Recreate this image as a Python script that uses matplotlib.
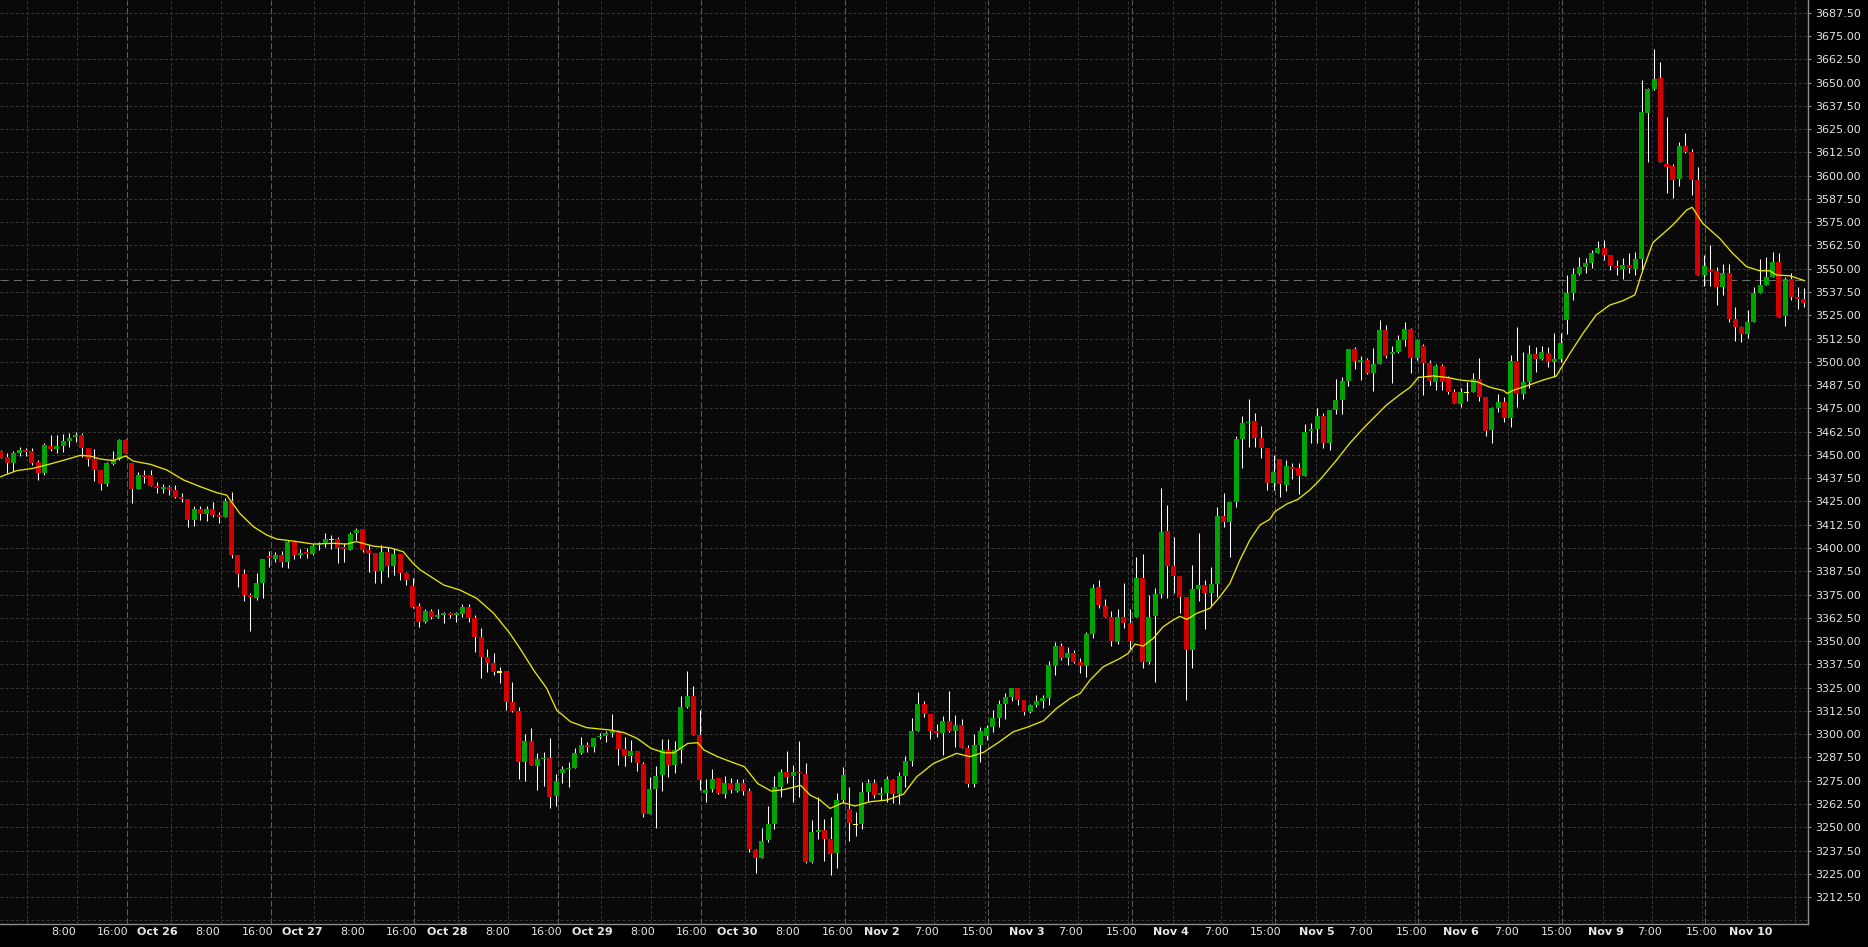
import matplotlib
matplotlib.use("Agg")
import matplotlib.pyplot as plt
import numpy as np

plt.rcParams['lines.scale_dashes'] = False
plt.rcParams['font.family'] = ['DejaVu Sans']

# ---------------- data (hourly candles, index = bar number) ----------------
opens = [3452.0,3448.8,3445.6,3451.2,3452.6,3452.1,3446.2,3440.4,3454.8,3453.1,
         3454.9,3457.4,3459.6,3460.7,3453.7,3448.0,3441.9,3434.3,3445.3,3447.8,
         3458.0,3445.8,3431.7,3439.2,3439.2,3433.1,3431.7,3432.7,3431.3,3427.3,
         3426.3,3415.0,3420.9,3418.4,3420.9,3417.7,3416.6,3425.2,3396.2,3386.0,
         3374.7,3373.3,3381.2,3395.7,3394.1,3396.2,3392.6,3403.2,3396.4,3397.6,
         3396.7,3401.4,3402.5,3404.5,3404.8,3400.7,3398.9,3408.2,3410.2,3398.9,
         3397.1,3387.6,3397.8,3390.5,3396.7,3386.4,3379.7,3368.8,3360.4,3366.1,
         3363.1,3363.8,3365.2,3363.8,3364.5,3368.3,3362.4,3352.2,3341.4,3338.2,
         3333.4,3333.9,3317.4,3312.4,3285.2,3296.3,3283.0,3286.4,3287.2,3266.8,
         3279.3,3281.3,3282.0,3289.9,3294.1,3293.3,3298.3,3299.2,3300.4,3301.5,
         3292.0,3288.4,3290.9,3284.1,3257.3,3270.5,3278.0,3291.5,3283.4,3291.5,
         3314.6,3320.5,3299.5,3268.2,3270.3,3276.4,3268.0,3273.7,3269.6,3273.7,
         3269.4,3237.7,3233.6,3243.1,3251.7,3271.6,3279.6,3277.7,3279.6,3278.6,
         3231.5,3247.2,3248.5,3243.7,3235.9,3264.9,3259.8,3251.7,3251.7,3268.9,
         3273.9,3267.5,3268.6,3275.4,3267.8,3277.5,3285.6,3301.7,3316.2,3310.8,
         3301.7,3300.4,3307.1,3301.7,3304.9,3292.7,3273.2,3294.2,3299.0,3303.6,
         3308.5,3316.2,3319.8,3324.6,3318.3,3312.1,3315.6,3317.8,3319.6,3336.8,
         3347.3,3341.1,3343.4,3338.9,3336.8,3353.6,3379.0,3369.0,3362.7,3349.7,
         3362.7,3359.5,3363.1,3383.9,3338.9,3363.4,3375.3,3409.1,3390.3,3384.9,
         3373.8,3345.2,3377.9,3380.1,3376.0,3380.6,3417.2,3414.1,3424.8,3458.5,
         3466.9,3468.0,3459.2,3453.9,3435.1,3447.8,3433.8,3443.3,3442.9,3438.6,
         3462.6,3463.9,3470.9,3456.5,3474.1,3479.5,3489.7,3506.9,3500.1,3500.9,
         3494.2,3498.8,3517.1,3504.0,3505.4,3511.7,3517.6,3502.2,3508.5,3499.5,
         3489.3,3497.7,3491.6,3483.9,3477.3,3483.4,3483.9,3490.6,3480.9,3463.4,
         3475.4,3478.6,3470.0,3500.4,3482.7,3489.1,3504.2,3501.5,3504.9,3500.0,
         3501.5,3522.4,3537.1,3547.1,3550.9,3553.2,3558.6,3561.1,3557.3,3551.4,
         3550.0,3552.0,3550.0,3555.4,3633.8,3646.7,3652.2,3606.2,3605.1,3598.3,
         3615.9,3612.7,3597.6,3546.6,3549.3,3548.9,3540.3,3547.5,3523.0,3518.5,
         3514.9,3521.5,3536.8,3541.2,3545.7,3553.8,3524.6,3544.3,3535.0,3533.7]
highs = [3452.6,3450.8,3452.2,3454.0,3453.5,3453.5,3447.2,3456.5,3460.5,3460.8,
         3461.2,3461.6,3462.3,3461.6,3453.7,3453.1,3441.9,3446.3,3452.1,3458.3,
         3458.3,3445.8,3441.0,3441.9,3441.9,3435.4,3434.3,3433.8,3433.6,3429.3,
         3426.3,3422.5,3422.5,3422.5,3424.9,3419.5,3426.6,3430.2,3396.2,3388.7,
         3375.6,3386.5,3394.1,3398.4,3398.0,3398.6,3404.3,3403.9,3399.4,3399.8,
         3402.1,3403.4,3407.8,3406.9,3406.1,3402.5,3408.7,3410.5,3410.2,3401.6,
         3397.1,3401.6,3400.7,3399.8,3396.7,3387.3,3384.0,3370.2,3367.2,3367.0,
         3367.0,3365.8,3365.8,3365.8,3369.7,3369.7,3364.0,3356.8,3345.7,3343.4,
         3336.2,3333.9,3327.8,3314.7,3300.0,3303.1,3289.7,3290.6,3297.7,3278.6,
         3283.0,3285.2,3292.7,3298.4,3295.9,3297.9,3300.4,3301.8,3310.8,3302.2,
         3298.6,3296.8,3290.9,3285.2,3277.1,3282.9,3297.4,3297.4,3296.3,3320.5,
         3333.9,3325.8,3312.9,3275.9,3281.3,3276.4,3277.5,3276.2,3276.1,3275.9,
         3270.9,3238.1,3249.7,3261.4,3277.5,3281.3,3290.9,3283.6,3296.3,3284.7,
         3253.9,3266.0,3254.4,3255.3,3268.2,3282.2,3271.8,3258.3,3274.5,3275.7,
         3275.7,3271.8,3277.5,3275.7,3279.5,3288.2,3308.8,3322.5,3317.8,3310.8,
         3305.4,3309.7,3323.2,3310.3,3307.9,3294.2,3299.9,3304.0,3304.9,3313.0,
         3318.3,3322.3,3324.9,3324.9,3318.3,3316.0,3321.0,3321.0,3339.3,3349.7,
         3349.1,3346.6,3345.2,3340.7,3355.0,3380.6,3382.8,3372.4,3366.3,3367.0,
         3381.0,3367.0,3395.0,3396.7,3374.7,3378.3,3432.0,3423.1,3406.1,3385.1,
         3373.8,3390.8,3407.8,3382.8,3389.6,3421.8,3429.7,3424.8,3460.1,3470.9,
         3480.0,3472.3,3465.5,3453.9,3449.9,3447.8,3447.2,3445.8,3445.4,3466.6,
         3466.9,3475.4,3472.3,3474.1,3490.6,3491.6,3506.9,3508.1,3503.3,3501.8,
         3507.6,3522.4,3519.8,3508.5,3514.4,3521.2,3518.0,3512.1,3509.6,3500.9,
         3498.6,3498.6,3492.4,3485.2,3485.8,3489.3,3494.2,3501.8,3481.3,3475.9,
         3482.5,3480.9,3503.6,3518.8,3505.4,3509.0,3508.1,3508.5,3508.1,3515.3,
         3515.6,3546.6,3550.2,3556.4,3555.6,3560.0,3565.1,3565.4,3557.3,3554.7,
         3555.6,3558.2,3559.1,3651.3,3646.9,3667.8,3661.2,3631.3,3606.0,3618.2,
         3622.7,3614.1,3604.8,3557.3,3562.7,3551.1,3552.5,3552.5,3529.6,3519.4,
         3527.8,3540.3,3555.2,3556.4,3559.1,3558.2,3545.7,3547.5,3540.0,3539.4]
lows = [3448.1,3440.1,3441.5,3449.6,3449.4,3444.6,3436.5,3439.2,3452.2,3451.2,
        3451.7,3454.4,3457.1,3448.7,3444.0,3436.0,3431.1,3433.3,3444.6,3447.2,
        3450.8,3424.3,3431.7,3434.7,3433.4,3429.3,3429.3,3428.4,3426.6,3424.9,
        3411.4,3411.8,3415.0,3414.6,3416.8,3413.6,3416.4,3394.8,3379.2,3371.5,
        3355.6,3372.0,3372.9,3390.0,3392.6,3390.0,3389.4,3394.1,3394.6,3394.4,
        3396.2,3398.9,3400.7,3399.2,3392.1,3392.6,3398.9,3404.3,3398.0,3387.3,
        3381.0,3381.3,3384.6,3385.5,3382.8,3380.1,3367.6,3357.7,3359.5,3361.6,
        3362.2,3359.9,3362.5,3360.4,3363.1,3360.2,3344.3,3330.3,3333.2,3331.7,
        3327.6,3312.9,3312.0,3276.1,3275.0,3283.4,3270.0,3272.1,3260.5,3261.4,
        3273.9,3271.8,3281.6,3289.3,3290.6,3290.6,3297.2,3296.0,3298.6,3283.6,
        3283.0,3285.2,3280.4,3255.6,3257.3,3249.7,3269.6,3276.8,3278.9,3284.6,
        3313.8,3299.5,3269.9,3263.7,3268.7,3267.8,3265.9,3268.5,3268.7,3267.3,
        3236.9,3225.6,3233.6,3242.2,3248.9,3266.4,3273.9,3263.7,3266.4,3230.9,
        3230.9,3243.5,3232.0,3224.3,3228.3,3262.8,3242.6,3245.3,3248.9,3264.1,
        3265.5,3264.6,3263.7,3262.8,3262.3,3271.8,3283.0,3301.7,3309.4,3297.2,
        3298.6,3288.8,3301.3,3293.3,3292.7,3271.8,3271.8,3285.2,3296.8,3301.3,
        3303.6,3308.3,3317.8,3315.6,3310.3,3311.2,3314.7,3313.9,3315.6,3331.8,
        3339.8,3337.1,3338.4,3333.0,3330.9,3351.8,3367.6,3362.7,3347.5,3348.2,
        3356.8,3345.7,3363.1,3335.3,3337.7,3328.2,3373.0,3373.0,3375.6,3364.9,
        3318.3,3335.7,3371.5,3356.4,3369.3,3373.8,3411.4,3395.3,3422.2,3443.1,
        3454.4,3454.4,3448.1,3431.1,3431.1,3427.5,3430.6,3436.9,3429.0,3438.6,
        3456.2,3456.2,3453.5,3452.6,3471.8,3471.8,3487.0,3496.1,3490.2,3493.4,
        3484.5,3498.8,3501.8,3488.8,3504.5,3508.7,3494.2,3500.9,3482.1,3487.5,
        3484.8,3484.8,3482.5,3477.7,3475.5,3479.1,3483.6,3479.1,3460.3,3456.5,
        3472.8,3467.5,3465.1,3475.9,3479.8,3485.7,3494.7,3501.0,3497.4,3492.0,
        3500.0,3514.9,3533.2,3546.6,3547.9,3550.2,3558.2,3554.7,3549.3,3546.6,
        3544.4,3547.5,3546.6,3549.3,3607.5,3646.0,3607.5,3590.5,3587.8,3594.6,
        3612.0,3589.6,3546.6,3540.9,3540.9,3530.5,3535.9,3521.5,3511.1,3510.8,
        3513.0,3521.5,3536.8,3541.2,3545.3,3524.2,3519.4,3533.2,3528.2,3529.6]
closes = [3448.5,3445.6,3451.0,3452.6,3451.7,3445.6,3440.4,3455.3,3453.1,3454.8,
          3457.4,3459.0,3460.7,3453.7,3448.0,3441.9,3434.3,3445.8,3447.8,3458.0,
          3451.2,3431.7,3439.2,3438.3,3433.4,3432.2,3432.7,3431.3,3427.3,3426.5,
          3415.0,3420.9,3418.4,3420.9,3417.7,3416.6,3425.2,3396.2,3386.0,3374.7,
          3373.8,3381.2,3394.1,3394.8,3396.2,3392.6,3403.2,3396.2,3397.3,3396.7,
          3401.2,3402.1,3404.8,3404.5,3400.1,3399.6,3407.5,3409.6,3398.9,3397.1,
          3387.6,3397.8,3390.5,3396.7,3386.4,3382.8,3368.5,3360.4,3366.1,3363.1,
          3364.0,3365.2,3363.8,3364.9,3368.3,3362.4,3352.2,3341.4,3338.2,3333.4,
          3333.4,3317.4,3312.4,3285.2,3296.3,3283.4,3286.6,3287.2,3266.2,3274.8,
          3281.3,3282.0,3289.9,3294.1,3293.3,3297.9,3299.2,3300.4,3301.7,3292.2,
          3288.4,3290.9,3284.5,3257.3,3270.5,3277.5,3291.5,3283.4,3291.5,3314.5,
          3320.5,3299.5,3275.4,3270.0,3275.9,3268.2,3273.7,3270.0,3273.7,3269.6,
          3238.1,3233.6,3242.6,3251.7,3271.6,3279.6,3277.1,3279.6,3278.9,3231.5,
          3247.2,3248.5,3243.7,3235.6,3264.9,3277.9,3252.4,3251.7,3268.9,3273.9,
          3267.3,3268.6,3275.7,3267.8,3277.5,3285.6,3301.7,3316.2,3310.8,3301.7,
          3300.4,3307.1,3301.7,3304.9,3292.7,3273.2,3294.2,3301.7,3303.1,3308.5,
          3316.2,3319.8,3324.6,3318.3,3312.1,3315.6,3317.8,3319.2,3337.1,3347.3,
          3341.1,3343.4,3338.9,3336.8,3353.6,3378.3,3369.4,3362.7,3350.0,3362.7,
          3359.5,3350.0,3383.9,3338.9,3363.1,3375.3,3408.6,3390.5,3384.9,3373.8,
          3345.2,3377.9,3380.1,3376.0,3380.6,3417.2,3414.1,3424.8,3458.5,3466.9,
          3467.6,3459.2,3453.9,3435.1,3440.8,3434.5,3444.0,3442.6,3438.6,3462.3,
          3463.9,3470.9,3456.5,3474.1,3479.5,3489.7,3506.9,3500.6,3500.9,3494.2,
          3498.8,3517.1,3503.3,3505.4,3511.7,3517.6,3502.2,3511.7,3499.5,3489.7,
          3497.7,3489.3,3483.9,3478.0,3483.6,3483.4,3490.6,3481.3,3463.0,3475.4,
          3478.6,3470.0,3500.4,3482.7,3489.1,3504.2,3501.5,3505.2,3500.0,3501.5,
          3510.3,3537.1,3547.1,3550.9,3553.2,3558.6,3561.1,3557.3,3551.4,3550.5,
          3552.0,3550.2,3555.4,3634.3,3646.3,3651.9,3607.5,3604.8,3597.6,3615.9,
          3612.7,3597.6,3546.6,3551.6,3548.4,3540.3,3547.5,3523.0,3518.5,3514.9,
          3521.5,3536.8,3541.2,3545.7,3553.8,3524.2,3544.3,3535.0,3533.9,3531.4]

# moving-average line (bar index, value)
ma_bar = [0,2.5,5.2,7.9,10.6,12.7,14.3,15.9,18,20,21.2,24,26.6,29.3,32,34.6,36.2,
          38.3,40.5,42.6,44.2,46.9,50.1,53.3,55.4,57,59.7,62.4,64.5,66.1,67.2,71,
          73.6,76.3,79,81.6,83.2,85.4,87.5,89.1,91.3,93.9,97.7,99.9,102,104.2,106.3,
          107.9,110.1,111.7,112.7,114.9,117,119.2,121.3,123.5,125.6,128.2,129.7,
          131.3,132.9,135,136.9,139.3,142,144.7,146.8,149.5,153.2,155.3,157.5,160.1,
          162.3,164.4,167.1,169.2,171.4,173,174.6,176.7,179.4,180.7,181.8,183.1,
          184.7,186.3,188,189,190.1,191.7,193.8,195.4,197,198.6,200.2,201.8,203.4,
          204.2,206.1,207.9,209.8,211.4,214.1,216.2,218.4,220.5,222.1,224.3,225.9,
          227.2,229.6,231.8,233.9,236.6,238.7,240.9,241.4,242.5,244.5,247.2,249.3,
          251.5,253.6,255.7,257.9,260,261.9,263.2,264.8,268,270.2,271.1,272.8,275.5,
          277.6,279.8,281.9,283.5,284.6,286.7,289.1]
ma_val = [3438.3,3441.5,3442.8,3445.1,3447.6,3449.7,3449.4,3447.8,3446.9,3449.4,
          3446.7,3444.9,3441.9,3436.5,3432.9,3429.7,3428.4,3418.6,3411.4,3407.0,
          3404.8,3403.7,3402.1,3402.5,3402.1,3403.4,3401.0,3400.1,3398.0,3391.7,
          3388.3,3380.1,3377.4,3372.9,3364.9,3354.1,3346.1,3334.4,3324.6,3312.9,
          3306.7,3303.5,3302.2,3300.8,3297.7,3292.4,3290.0,3290.0,3295.0,3295.4,
          3291.5,3287.9,3285.2,3282.5,3273.5,3269.4,3270.3,3272.5,3267.3,3264.6,
          3260.1,3263.2,3261.4,3263.7,3264.6,3267.8,3277.1,3284.3,3289.7,3287.9,
          3290.2,3296.0,3301.3,3303.6,3307.1,3313.8,3319.2,3321.9,3329.1,3336.2,
          3340.7,3343.4,3348.4,3347.3,3351.4,3357.7,3361.5,3363.3,3361.6,3364.9,
          3367.6,3373.8,3381.0,3393.5,3404.3,3412.3,3415.4,3419.5,3423.6,3426.1,
          3431.1,3436.5,3447.2,3456.2,3464.3,3471.4,3476.8,3482.5,3486.3,3491.6,
          3492.4,3491.6,3490.2,3489.3,3486.3,3484.5,3483.0,3484.8,3487.0,3490.2,
          3492.3,3504.5,3515.3,3525.1,3530.5,3532.8,3535.9,3549.3,3564.0,3573.5,
          3581.5,3583.0,3574.3,3566.3,3558.2,3551.1,3548.9,3548.9,3546.6,3546.2,
          3543.6]

last_price_line = 3544.0
price_ticks = np.arange(3212.5, 3687.51, 12.5)

xtick_labels = ["8:00", "16:00", "Oct 26", "8:00", "16:00", "Oct 27", "8:00", "16:00",
                "Oct 28", "8:00", "16:00", "Oct 29", "8:00", "16:00", "Oct 30", "8:00",
                "16:00", "Nov 2", "7:00", "15:00", "Nov 3", "7:00", "15:00", "Nov 4",
                "7:00", "15:00", "Nov 5", "7:00", "15:00", "Nov 6", "7:00", "15:00",
                "Nov 9", "7:00", "15:00", "Nov 10"]
# layout: where each label sits along the bar axis
xtick_pos = [10.1, 17.9, 25.1, 33.2, 41.2, 48.3, 56.4, 64.3, 71.5, 79.7, 87.5, 94.8,
             102.9, 110.7, 118.0, 126.1, 134.1, 141.2, 148.4, 156.5, 164.4, 171.5,
             179.7, 187.6, 194.8, 202.8, 210.9, 218.0, 226.1, 234.0, 241.3, 249.4,
             257.2, 264.3, 272.6, 280.4]

# ---------------- figure ----------------
W, H = 1868, 947
fig = plt.figure(figsize=(W / 100, H / 100), dpi=100, facecolor='#000000')
ax = fig.add_axes([0, 23.5 / H, 1808 / W, 923.5 / H])
ax.set_facecolor('#090909')

o = np.array(opens); h = np.array(highs); l = np.array(lows); c = np.array(closes)
n = len(o)
x = np.arange(n)

grid_kw = dict(color='#363636', lw=0.72, linestyle=(0, (2.2, 1.5)), zorder=1)
for p in np.arange(3200, 3700, 12.5):
    ax.axhline(p, **grid_kw)

first_session = 20.23
per_session = 23
sessions = [first_session + per_session * s for s in range(12)]
dotted = []
for s in range(-1, 5):
    b = first_session + per_session * s
    dotted += [b + 7, b + 15]
for s in range(5, 12):
    b = first_session + per_session * s
    dotted += [b + 6.6, b + 14.4, b + 22.5]
for v in dotted:
    ax.axvline(v, **grid_kw)
for v in sessions:
    ax.axvline(v, color='#5c5c5c', lw=0.72, linestyle=(0, (4.5, 1.8)), zorder=1.5)

ax.axhline(last_price_line, color='#6a6a6a', lw=0.72, linestyle=(0, (6, 3.5)), zorder=1.5)

# candles
ax.vlines(x, l, h, color='#ffffff', lw=0.75, zorder=3)
cols = np.where(c > o, '#00a400', np.where(c < o, '#d40000', '#ffff00'))
bottom = np.minimum(o, c)
height = np.abs(c - o)
small = height < 0.6
bottom = np.where(small, (o + c) / 2 - 0.3, bottom)
height = np.where(small, 0.6, height)
ax.bar(x, height, width=0.8, bottom=bottom, color=cols, linewidth=0, zorder=4)

# moving average
ax.plot(ma_bar, ma_val, color='#e6e600', lw=0.95, zorder=5)

ax.set_xlim(-0.128, 289.66)
ax.set_ylim(3198.3, 3694.32)

for side in ('left', 'top'):
    ax.spines[side].set_visible(False)
for side in ('right', 'bottom'):
    ax.spines[side].set_color('#8c8c8c')
    ax.spines[side].set_linewidth(1.0)

ax.yaxis.tick_right()
ax.set_yticks(price_ticks)
ax.set_yticklabels([f"{p:.2f}" for p in price_ticks])
ax.tick_params(axis='y', colors='#8c8c8c', labelcolor='#e6e6e6', labelsize=8,
               length=2.5, width=0.75, pad=3)

ax.set_xticks(xtick_pos)
ax.set_xticklabels(xtick_labels)
ax.tick_params(axis='x', length=0, labelcolor='#e6e6e6', labelsize=8, pad=2.5)
for t in ax.get_xticklabels():
    if not t.get_text()[0].isdigit():
        t.set_fontweight('bold')

fig.savefig('out.png', dpi=100, facecolor=fig.get_facecolor())
